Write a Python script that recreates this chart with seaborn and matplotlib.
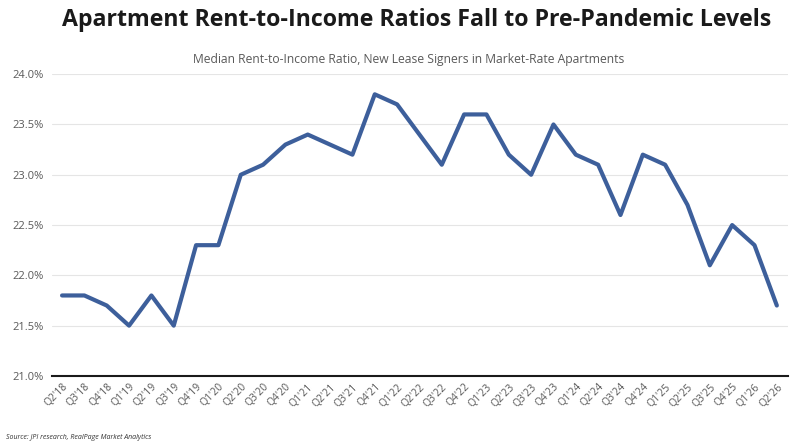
import matplotlib
matplotlib.use("Agg")
import matplotlib.pyplot as plt
import seaborn as sns
import pandas as pd
from matplotlib.ticker import FuncFormatter

quarters = ["Q2'18", "Q3'18", "Q4'18", "Q1'19", "Q2'19", "Q3'19", "Q4'19",
            "Q1'20", "Q2'20", "Q3'20", "Q4'20", "Q1'21", "Q2'21", "Q3'21",
            "Q4'21", "Q1'22", "Q2'22", "Q3'22", "Q4'22", "Q1'23", "Q2'23",
            "Q3'23", "Q4'23", "Q1'24", "Q2'24", "Q3'24", "Q4'24", "Q1'25",
            "Q2'25", "Q3'25", "Q4'25", "Q1'26", "Q2'26"]
ratio = [21.8, 21.8, 21.7, 21.5, 21.8, 21.5, 22.3, 22.3, 23.0, 23.1, 23.3,
         23.4, 23.3, 23.2, 23.8, 23.7, 23.4, 23.1, 23.6, 23.6, 23.2, 23.0,
         23.5, 23.2, 23.1, 22.6, 23.2, 23.1, 22.7, 22.1, 22.5, 22.3, 21.7]
yticks = [21.0, 21.5, 22.0, 22.5, 23.0, 23.5, 24.0]

df = pd.DataFrame({"idx": range(len(quarters)), "quarter": quarters, "ratio": ratio})

sns.set_theme(style="white")
plt.rcParams['font.family'] = ['Open Sans', 'DejaVu Sans']

fig = plt.figure(figsize=(8, 4.47), dpi=100)
ax = fig.add_axes([0.065, 0.159, 0.92, 0.675])

sns.lineplot(data=df, x="idx", y="ratio", ax=ax, color="#3D5F9B", linewidth=3.0)

ax.set_xlim(-0.45, len(quarters) - 0.5)
ax.set_ylim(21.0, 24.0)
ax.set_yticks(yticks)
ax.yaxis.set_major_formatter(FuncFormatter(lambda v, p: f"{v:.1f}%"))
ax.set_xticks(range(len(quarters)))
ax.set_xticklabels(quarters, rotation=45, ha="right", rotation_mode="anchor")
ax.tick_params(axis="x", labelsize=7.5, colors="#595959", length=0, pad=4)
ax.tick_params(axis="y", labelsize=8, colors="#595959", length=0, pad=6)
ax.grid(axis="y", color="#E5E5E5", linewidth=0.8)
ax.set_xlabel("")
ax.set_ylabel("")
for s in ["top", "right", "left"]:
    ax.spines[s].set_visible(False)
ax.spines["bottom"].set_color("#1a1a1a")
ax.spines["bottom"].set_linewidth(1.5)

fig.text(0.521, 0.955, "Apartment Rent-to-Income Ratios Fall to Pre-Pandemic Levels",
         ha="center", va="center", fontsize=16.7, fontweight="bold", color="#1a1a1a")
fig.text(0.511, 0.866, "Median Rent-to-Income Ratio, New Lease Signers in Market-Rate Apartments",
         ha="center", va="center", fontsize=8.7, color="#595959")
fig.text(0.007, 0.022, "Source: JPI research, RealPage Market Analytics",
         ha="left", va="center", fontsize=5, style="italic", color="#333333")

fig.savefig("out.png", dpi=100)
